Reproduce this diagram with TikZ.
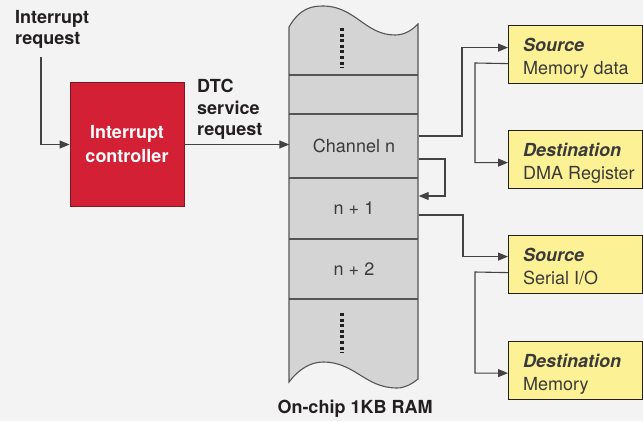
\documentclass[tikz,border=0pt]{standalone}
\usepackage{fontspec}
\setmainfont{TeX Gyre Heros}
\usetikzlibrary{arrows.meta,calc}
\definecolor{bg}{HTML}{F3F3F3}
\definecolor{ramfill}{HTML}{D4D4D4}
\definecolor{ramline}{HTML}{555555}
\definecolor{redbox}{HTML}{D42034}
\definecolor{redline}{HTML}{7A1A20}
\definecolor{yel}{HTML}{FDF195}
\definecolor{txt}{HTML}{231F20}
\definecolor{graytxt}{HTML}{3A3A3A}
\begin{document}
\begin{tikzpicture}[x=1pt,y=-1pt,
  conn/.style={draw=txt!85, line width=1.1pt, -{Triangle[length=10pt,width=8pt]}},
  lbl/.style={font=\fontsize{18}{21}\selectfont\bfseries, text=txt, align=left, inner sep=0, anchor=north west},
  rowlbl/.style={font=\fontsize{18}{21}\selectfont, text=graytxt, inner sep=0, minimum width=129pt},
  ybox/.style={draw=txt, line width=1.2pt, fill=yel, minimum width=134pt, minimum height=58pt, anchor=north west, inner sep=0},
  ytxt/.style={font=\fontsize{18}{23.5}\selectfont, text=graytxt, align=left, inner sep=0, anchor=north west},
  dots/.style={line width=3.2pt, draw=txt, dash pattern=on 3pt off 2.6pt},
  sep/.style={draw=ramline, line width=1.1pt}
]
\useasboundingbox[fill=bg] (0,0) rectangle (643,421);

% left texts
\node[lbl] (irq) at (15,10) {Interrupt\\request};
\node[lbl, font=\fontsize{18}{21.5}\selectfont\bfseries] (dtc) at (197,79) {DTC\\service\\request};

% interrupt controller
\node[draw=redline, line width=0.8pt, fill=redbox, minimum width=114pt, minimum height=124pt,
      text=white, font=\fontsize{18}{24}\selectfont\bfseries, align=center, inner sep=0]
      (ic) at (127,144.5) {Interrupt\\controller};

% RAM block
\path[fill=ramfill, draw=ramline, line width=1.1pt]
  (289,27) .. controls (300,8) and (312,6) .. (323,6)
  .. controls (355,6) and (365,35) .. (395,35)
  .. controls (405,35) and (412,30) .. (418,24)
  -- (418,379)
  .. controls (412,384) and (405,388) .. (397,388)
  .. controls (365,388) and (355,362) .. (323,362)
  .. controls (310,362) and (298,370) .. (289,382) -- cycle;
\foreach \yy in {75,114,178,239,299} \draw[sep] (289,\yy) -- (418,\yy);
\draw[dots] (342,28) -- (342,68);
\draw[dots] (342,313) -- (342,353);

\node[rowlbl, minimum height=64pt] (ch) at (354,146) {Channel n};
\node[rowlbl, minimum height=61pt] (n1) at (354,208.5) {n + 1};
\node[rowlbl, minimum height=60pt] (n2) at (354,269) {n + 2};
\node[font=\fontsize{18}{20}\selectfont\bfseries, text=txt, inner sep=0] (ramlbl) at (355,409) {On-chip 1KB RAM};

% yellow boxes
\node[ybox] (s1) at (508,25) {};
\node[ybox] (d1) at (508,130) {};
\node[ybox] (s2) at (508,235) {};
\node[ybox] (d2) at (508,341) {};
\node[ytxt] (s1t) at ($(s1.north west)+(15,12.5)$) {\textbf{\textit{Source}}\\Memory data};
\node[ytxt] (d1t) at ($(d1.north west)+(15,12.5)$) {\textbf{\textit{Destination}}\\DMA Register};
\node[ytxt] (s2t) at ($(s2.north west)+(15,12.5)$) {\textbf{\textit{Source}}\\Serial I/O};
\node[ytxt] (d2t) at ($(d2.north west)+(15,12.5)$) {\textbf{\textit{Destination}}\\Memory};

% connectors
\coordinate (irqtop) at (41,57);
\draw[conn] (irqtop) |- (ic.west);
\draw[conn] (ic.east) -- (ic.east -| ch.west);

\coordinate (a0) at ($(ch.east)+(0,-10)$);
\coordinate (a1) at ($(s1.west)+(0,-7)$);
\draw[conn] (a0) -- (462,136) |- (a1);

\coordinate (b0) at ($(s1.west)+(0,9)$);
\coordinate (b1) at ($(d1.west)+(0,3)$);
\draw[conn] (b0) -- (475,63) |- (b1);

\coordinate (l0) at ($(ch.east)+(0,13)$);
\coordinate (l1) at ($(n1.east)+(0,-12.5)$);
\draw[conn] (l0) -- (445,159) |- (l1);

\coordinate (c0) at ($(n1.east)+(0,6.5)$);
\coordinate (c1) at ($(s2.west)+(0,-8)$);
\draw[conn] (c0) -- (463,215) |- (c1);

\coordinate (e0) at ($(s2.west)+(0,8)$);
\coordinate (e1) at ($(d2.west)+(0,2.5)$);
\draw[conn] (e0) -- (475,272) |- (e1);
\end{tikzpicture}
\end{document}
